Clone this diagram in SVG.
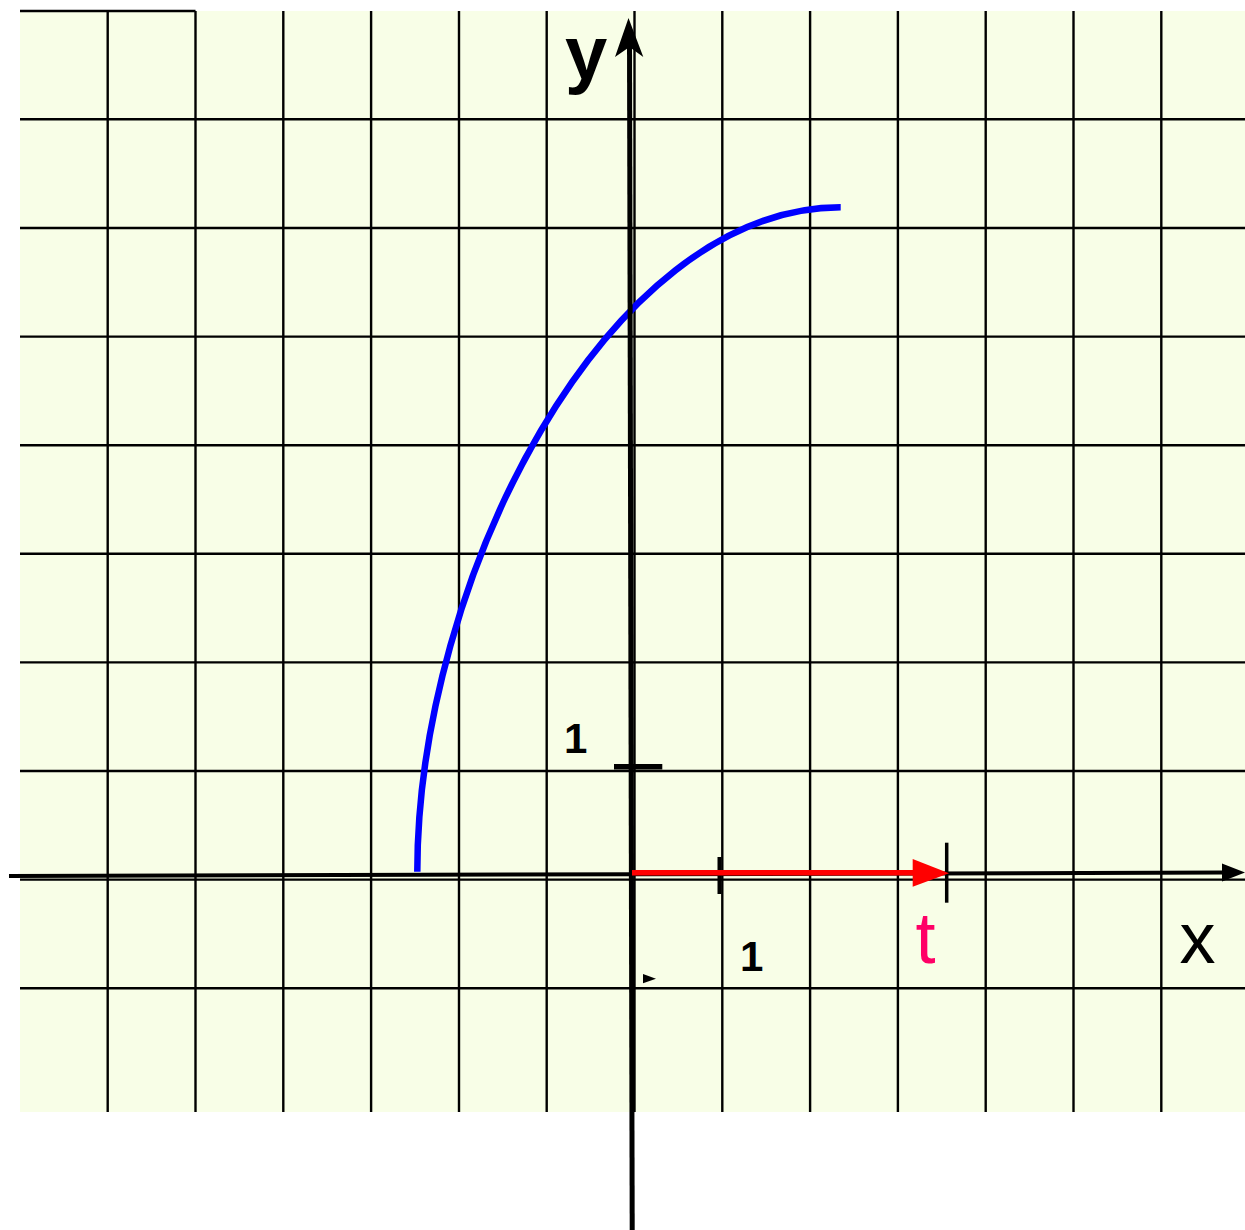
<svg xmlns="http://www.w3.org/2000/svg" width="1245" height="1230" viewBox="0 0 1245 1230">
<style>
.grid line{stroke:#000;stroke-width:2.4}
.lbl{font-family:"Liberation Sans",Arial,sans-serif}
.bold{font-weight:bold}
</style>
<rect x="0" y="0" width="1245" height="1230" fill="#ffffff"/>
<rect id="paper" x="20" y="11" width="1225" height="1101" fill="#F8FEE7"/>
<g id="grid" class="grid">
<line x1="20" y1="11" x2="195.5" y2="11"/>
<line x1="107.7" y1="11" x2="107.7" y2="1112"/>
<line x1="195.5" y1="11" x2="195.5" y2="1112"/>
<line x1="283.3" y1="11" x2="283.3" y2="1112"/>
<line x1="371.1" y1="11" x2="371.1" y2="1112"/>
<line x1="459" y1="11" x2="459" y2="1112"/>
<line x1="546.7" y1="11" x2="546.7" y2="1112"/>
<line x1="634.5" y1="11" x2="634.5" y2="1112"/>
<line x1="722.3" y1="11" x2="722.3" y2="1112"/>
<line x1="810.1" y1="11" x2="810.1" y2="1112"/>
<line x1="897.9" y1="11" x2="897.9" y2="1112"/>
<line x1="985.7" y1="11" x2="985.7" y2="1112"/>
<line x1="1073.5" y1="11" x2="1073.5" y2="1112"/>
<line x1="1161.3" y1="11" x2="1161.3" y2="1112"/>
<line x1="20" y1="119.3" x2="1245" y2="119.3"/>
<line x1="20" y1="228" x2="1245" y2="228"/>
<line x1="20" y1="336.6" x2="1245" y2="336.6"/>
<line x1="20" y1="445.2" x2="1245" y2="445.2"/>
<line x1="20" y1="553.8" x2="1245" y2="553.8"/>
<line x1="20" y1="662.4" x2="1245" y2="662.4"/>
<line x1="20" y1="771" x2="1245" y2="771"/>
<line x1="20" y1="879.6" x2="1245" y2="879.6"/>
<line x1="20" y1="988.2" x2="1245" y2="988.2"/>
</g>
<g id="curve">
<path d="M417.3,871.7 C417.3,581.7 605.7,207.3 840.7,207.3" fill="none" stroke="#0000FF" stroke-width="6.5"/>
</g>
<g id="axes">
<line id="x-axis" x1="9" y1="876" x2="1225" y2="872.6" stroke="#000" stroke-width="4"/>
<polygon points="1222,863.5 1245,872.5 1222,881.5" fill="#000"/>
<line id="y-axis" x1="629.5" y1="40" x2="632.2" y2="1230" stroke="#000" stroke-width="5"/>
<polygon points="628.5,18 643.3,57 629.5,47 615,57" fill="#000"/>
<line id="y-tick" x1="614" y1="766.7" x2="662.3" y2="766.7" stroke="#000" stroke-width="5.5"/>
<line id="x-tick" x1="719.5" y1="857" x2="719.5" y2="894" stroke="#000" stroke-width="4"/>
<line id="t-tick" x1="946.7" y1="842.7" x2="946.7" y2="902.7" stroke="#000" stroke-width="3.5"/>
<polygon id="small-mark" points="643,974 656,978.7 643,983.3" fill="#000"/>
</g>
<g id="vector-t">
<line x1="632" y1="872.7" x2="915" y2="872.7" stroke="#FF0000" stroke-width="5.5"/>
<polygon points="912.7,859 949,873.2 912.7,886.7" fill="#FF0000"/>
</g>
<g id="labels" class="lbl">
<text x="565" y="79.4" font-size="76" class="bold" fill="#000">y</text>
<text x="1179.5" y="963" font-size="72" fill="#000">x</text>
<text x="915.5" y="963" font-size="72" fill="#FF0066">t</text>
<text x="564" y="753" font-size="42" class="bold" fill="#000">1</text>
<text x="740" y="971" font-size="42" class="bold" fill="#000">1</text>
</g>
</svg>
